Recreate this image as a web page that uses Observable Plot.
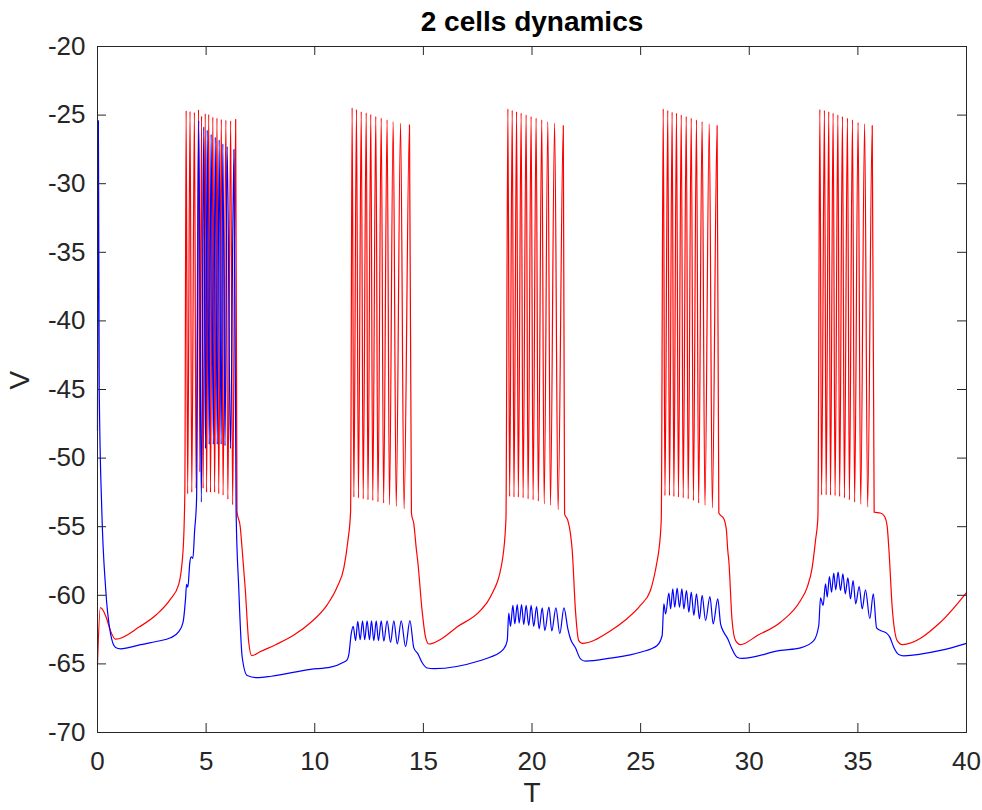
<!DOCTYPE html>
<html><head><meta charset="utf-8">
<script src="https://cdn.jsdelivr.net/npm/d3@7"></script>
<script src="https://cdn.jsdelivr.net/npm/@observablehq/plot@0.6"></script>
<style>body{margin:0;background:#fff} svg{display:block}</style>
</head><body><div id="chart"></div>
<script>
const titleText = "2 cells dynamics";
const xLabel = "T";
const yLabel = "V";
const xTicks = [0, 5, 10, 15, 20, 25, 30, 35, 40];
const yTicks = [-70, -65, -60, -55, -50, -45, -40, -35, -30, -25, -20];

// ---- Cell 1 (red) ----
const redRestT = [0, 0.13, 0.22, 0.4, 0.6, 0.83, 1.93, 2.72, 3.35, 3.74, 3.94, 4.02,
  6.42, 6.57, 6.65, 6.8, 6.96, 7.1, 7.5, 8.2, 9.04, 9.8, 10.57, 11.03, 11.34, 11.52, 11.65,
  14.45, 14.56, 14.68, 14.74, 14.94, 15.1, 15.25, 15.8, 16.56, 17.63, 18.09, 18.63, 18.8,
  21.5, 21.65, 21.77, 21.85, 22.0, 22.15, 22.31, 23.6, 24.3, 24.99, 25.45, 25.76, 25.84, 25.95,
  28.6, 28.83, 28.95, 29.01, 29.06, 29.21, 29.37, 29.6, 30.37, 31.44, 32.36, 32.67, 32.9, 33.05, 33.16,
  35.75, 36.04, 36.23, 36.35, 36.43, 36.58, 36.81, 37.04, 38.8, 40];
const redRestV = [-65, -60.9, -61.0, -61.6, -62.6, -63.2, -62.3, -61.4, -60.3, -59.2, -56.7, -52.5,
  -53.9, -55.0, -56.5, -59.5, -63.4, -64.4, -64.1, -63.6, -62.9, -62.0, -60.7, -59.4, -58.0, -56.1, -53.9,
  -54.0, -54.8, -56.7, -57.5, -61.1, -63.05, -63.55, -63.2, -62.3, -61.1, -60.1, -57.5, -54.5,
  -54.06, -54.55, -55.5, -56.7, -61.1, -63.3, -63.5, -62.6, -61.8, -60.74, -59.65, -57.5, -56.7, -54.5,
  -54.01, -54.42, -55.28, -56.7, -57.5, -61.84, -63.3, -63.59, -62.93, -61.96, -60.38, -59.4, -57.95, -56.0, -54.3,
  -53.94, -54.0, -54.26, -55.0, -56.7, -60.87, -63.3, -63.59, -61.96, -59.8];
const redPeakT = [4.08, 4.26, 4.46, 4.65, 4.79, 4.96, 5.12, 5.31, 5.50, 5.70, 5.91, 6.13, 6.36,
  11.72, 11.92, 12.14, 12.37, 12.58, 12.81, 13.06, 13.33, 13.61, 13.95, 14.36,
  18.89, 19.09, 19.29, 19.50, 19.73, 19.96, 20.19, 20.45, 20.73, 21.04, 21.44,
  26.04, 26.25, 26.45, 26.65, 26.87, 27.10, 27.33, 27.57, 27.83, 28.16, 28.52,
  33.25, 33.46, 33.66, 33.86, 34.08, 34.29, 34.52, 34.75, 35.01, 35.31, 35.66];
const redPeakV = [-24.67, -24.72, -24.8, -24.6, -25.08, -24.89, -24.94, -25.14, -25.22, -25.31, -25.36, -25.42, -25.31,
  -24.47, -24.59, -24.74, -24.83, -24.95, -25.1, -25.22, -25.35, -25.47, -25.59, -25.71,
  -24.54, -24.66, -24.74, -24.86, -24.98, -25.1, -25.22, -25.35, -25.47, -25.59, -25.76,
  -24.54, -24.66, -24.78, -24.86, -24.98, -25.1, -25.22, -25.35, -25.47, -25.64, -25.76,
  -24.59, -24.66, -24.74, -24.86, -24.98, -25.1, -25.22, -25.35, -25.52, -25.64, -25.76];
const redTroughT = [4.15, 4.34, 4.54, 4.71, 4.86, 5.02, 5.2, 5.39, 5.58, 5.78, 6.0, 6.22,
  11.80, 12.01, 12.23, 12.45, 12.67, 12.91, 13.17, 13.44, 13.75, 14.11,
  18.97, 19.17, 19.37, 19.59, 19.82, 20.05, 20.29, 20.56, 20.85, 21.2,
  26.12, 26.33, 26.53, 26.74, 26.96, 27.19, 27.43, 27.67, 27.96, 28.3,
  33.33, 33.54, 33.74, 33.95, 34.16, 34.38, 34.61, 34.85, 35.13, 35.45];
const redTroughV = [-52.6, -52.5, -52.2, -51.0, -52.2, -52.5, -52.5, -52.5, -52.6, -52.7, -53.0, -53.4,
  -52.85, -52.9, -52.97, -53.04, -53.09, -53.19, -53.28, -53.4, -53.52, -53.69,
  -52.80, -52.85, -52.85, -52.9, -52.97, -53.04, -53.14, -53.33, -53.45, -53.77,
  -52.73, -52.73, -52.8, -52.85, -52.9, -52.97, -53.09, -53.28, -53.45, -53.62,
  -52.68, -52.68, -52.7, -52.73, -52.8, -52.9, -53.04, -53.21, -53.38, -53.57];

// ---- Cell 2 (blue) ----
const blueRestT = [0, 0.04, 0.08, 0.2, 0.37, 0.6, 0.83, 1.06, 1.98, 2.75, 3.36, 3.74, 3.94, 4.05, 4.10, 4.16, 4.25, 4.31, 4.39, 4.47, 4.56,
  6.38, 6.5, 6.66, 6.89, 7.35, 8.0, 9.8, 10.73, 11.3, 11.49, 11.57, 11.68,
  14.56, 14.75, 14.94, 15.17, 15.5, 17.63, 18.09, 18.7, 18.86,
  21.65, 21.77, 22.0, 22.23, 22.46, 23.61, 24.99, 25.76, 25.99,
  28.68, 28.83, 29.01, 29.17, 29.44, 29.67, 31.44, 32.36, 32.97, 33.2,
  35.86, 36.04, 36.32, 36.47, 36.65, 36.88, 37.11, 38.8, 40];
const blueRestV = [-48, -25.4, -44.9, -53.9, -59.4, -62.8, -63.8, -63.9, -63.6, -63.35, -63.1, -62.65, -61.95, -60.3, -59.2, -59.4, -57.6, -57.2, -57.3, -55.3, -53.0,
  -53.9, -59.4, -64.5, -65.85, -66.0, -65.9, -65.4, -65.24, -64.9, -64.7, -64.3, -62.8,
  -63.83, -64.27, -64.9, -65.3, -65.35, -64.75, -64.5, -63.9, -63.3,
  -62.44, -63.17, -63.83, -64.63, -64.8, -64.58, -64.15, -63.66, -62.93,
  -62.08, -62.69, -63.17, -63.78, -64.51, -64.6, -64.02, -63.83, -63.3, -62.2,
  -62.37, -62.57, -62.76, -63.05, -63.78, -64.31, -64.41, -64.02, -63.5];
const bluePeakT = [4.66, 4.89, 5.05, 5.23, 5.42, 5.6, 5.77, 5.97, 6.28,
  11.77, 11.98, 12.2, 12.41, 12.61, 12.83, 13.06, 13.33, 13.64, 13.98, 14.38,
  18.93, 19.12, 19.32, 19.52, 19.73, 19.96, 20.21, 20.47, 20.78, 21.1, 21.47,
  26.07, 26.3, 26.48, 26.68, 26.9, 27.11, 27.33, 27.57, 27.83, 28.19, 28.55,
  33.28, 33.51, 33.69, 33.89, 34.09, 34.31, 34.54, 34.78, 35.06, 35.35, 35.71];
const bluePeakV = [-25.4, -25.85, -26.1, -26.4, -26.6, -26.8, -27.1, -27.3, -27.5,
  -62.27, -61.9, -61.86, -61.86, -61.86, -61.86, -61.86, -61.86, -61.86, -61.86, -61.84,
  -61.3, -60.74, -60.67, -60.67, -60.74, -60.74, -60.82, -60.91, -60.86, -60.91, -60.91,
  -60.62, -59.84, -59.53, -59.48, -59.53, -59.65, -59.77, -59.9, -60.01, -60.09, -60.26,
  -60.18, -59.16, -58.63, -58.39, -58.31, -58.44, -58.73, -58.92, -59.36, -59.6, -59.89];
const blueTroughT = [4.78, 4.97, 5.14, 5.33, 5.51, 5.69, 5.87, 6.12,
  11.88, 12.09, 12.3, 12.52, 12.72, 12.93, 13.18, 13.49, 13.8, 14.18,
  19.01, 19.21, 19.41, 19.62, 19.85, 20.08, 20.33, 20.59, 20.91, 21.28,
  26.15, 26.38, 26.57, 26.79, 26.99, 27.22, 27.45, 27.71, 27.99, 28.34,
  33.4, 33.59, 33.79, 33.98, 34.2, 34.42, 34.66, 34.9, 35.2, 35.55];
const blueTroughV = [-53.2, -49.3, -49.0, -49.0, -49.0, -49.0, -49.1, -49.3,
  -63.3, -63.24, -63.24, -63.24, -63.3, -63.3, -63.35, -63.43, -63.55, -63.74,
  -62.27, -62.08, -62.03, -62.13, -62.2, -62.27, -62.44, -62.57, -62.6, -62.8,
  -61.35, -60.99, -60.87, -60.87, -60.99, -61.23, -61.47, -61.71, -61.84, -62.08,
  -60.74, -60.13, -59.77, -59.6, -59.65, -59.89, -60.26, -60.62, -60.99, -61.71];

function trace(parts) {
  const pts = [];
  for (const [T, V] of parts) T.forEach((t, i) => pts.push({t, v: V[i]}));
  return pts.sort((a, b) => a.t - b.t);
}
const red = trace([[redRestT, redRestV], [redPeakT, redPeakV], [redTroughT, redTroughV]]);
const blue = trace([[blueRestT, blueRestV], [bluePeakT, bluePeakV], [blueTroughT, blueTroughV]]);

const ink = "#262626";
const fmt = d => String(d);
const chart = Plot.plot({
  width: 982, height: 810,
  marginLeft: 97, marginRight: 16, marginTop: 46, marginBottom: 78,
  style: {fontFamily: "'Liberation Sans', Arial, sans-serif", fontSize: "26px", color: ink, background: "#fff"},
  x: {domain: [0, 40]},
  y: {domain: [-70, -20]},
  marks: [
    Plot.line(red, {x: "t", y: "v", stroke: "#ff0000", strokeWidth: 1.2, curve: "monotone-x"}),
    Plot.line(blue, {x: "t", y: "v", stroke: "#0000ff", strokeWidth: 1.2, curve: "monotone-x"}),
    Plot.frame({stroke: ink, strokeWidth: 1}),
    Plot.tickX(xTicks, {x: d => d, insetTop: 677, stroke: ink}),
    Plot.tickX(xTicks, {x: d => d, insetBottom: 677, stroke: ink}),
    Plot.tickY(yTicks, {y: d => d, insetRight: 860, stroke: ink}),
    Plot.tickY(yTicks, {y: d => d, insetLeft: 860, stroke: ink}),
    Plot.axisX({ticks: xTicks, tickSize: 0, tickPadding: 19, tickFormat: fmt, label: null, fill: ink}),
    Plot.axisY({ticks: yTicks, tickSize: 0, tickPadding: 12, tickFormat: fmt, label: null, fill: ink}),
    Plot.text([titleText], {text: d => d, frameAnchor: "top", dy: -24, fontSize: 28, fontWeight: "bold", fill: "#000", lineAnchor: "middle"}),
    Plot.text([xLabel], {text: d => d, frameAnchor: "bottom", dy: 61, fontSize: 28, fill: ink, lineAnchor: "middle"}),
    Plot.text([yLabel], {text: d => d, frameAnchor: "left", dx: -77, rotate: -90, fontSize: 28, fill: ink, lineAnchor: "middle"})
  ]
});
document.getElementById("chart").append(chart);
</script>
</body></html>
